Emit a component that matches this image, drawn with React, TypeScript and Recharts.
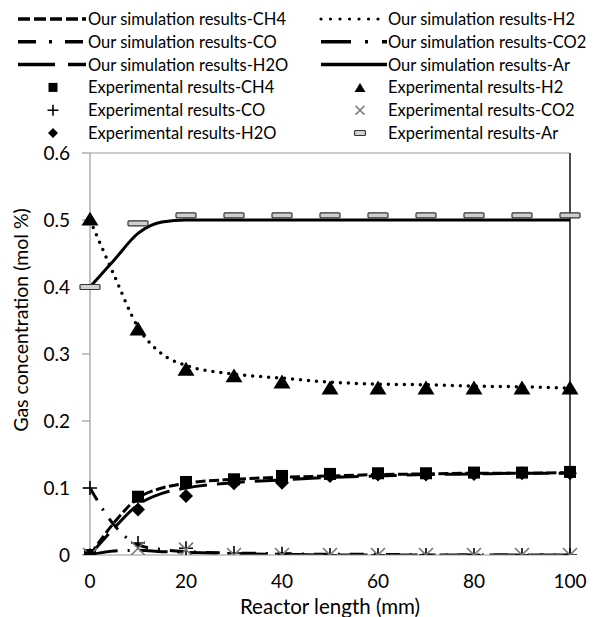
import {
  ComposedChart,
  Line,
  Scatter,
  XAxis,
  YAxis,
  ReferenceLine,
} from "recharts";

// simulation curves (mm along reactor)
const simX = [0, 5, 10, 15, 20, 30, 40, 50, 60, 70, 80, 90, 100];
const simCH4 = [0, 0.048, 0.085, 0.1, 0.107, 0.113, 0.116, 0.118, 0.12, 0.121, 0.122, 0.122, 0.123];
const simH2 = [0.5, 0.418, 0.34, 0.3, 0.283, 0.27, 0.264, 0.258, 0.255, 0.254, 0.252, 0.251, 0.249];
const simCO = [0.1, 0.045, 0.015, 0.008, 0.005, 0.003, 0.002, 0.001, 0.001, 0, 0, 0, 0];
const simCO2 = [0, 0.006, 0.007, 0.005, 0.004, 0.002, 0.001, 0, 0, 0, 0, 0, 0];
const simH2O = [0, 0.04, 0.075, 0.092, 0.1, 0.108, 0.112, 0.116, 0.118, 0.12, 0.121, 0.122, 0.122];
const simAr = [0.4, 0.44, 0.48, 0.497, 0.5, 0.5, 0.5, 0.5, 0.5, 0.5, 0.5, 0.5, 0.5];

// experimental points
const expX = [0, 10, 20, 30, 40, 50, 60, 70, 80, 90, 100];
const expCH4 = [0, 0.087, 0.109, 0.113, 0.118, 0.121, 0.122, 0.122, 0.123, 0.123, 0.124];
const expH2 = [0.5, 0.336, 0.276, 0.266, 0.257, 0.248, 0.248, 0.248, 0.248, 0.248, 0.248];
const expCO = [0.1, 0.018, 0.01, 0.003, 0.002, 0, 0, 0, 0, 0, 0];
const expCO2 = [0, 0.01, 0.008, 0, 0, 0, 0, 0, 0, 0, 0];
const expH2O = [0, 0.068, 0.088, 0.107, 0.108, 0.118, 0.12, 0.12, 0.121, 0.122, 0.122];
const expAr = [0.4, 0.495, 0.507, 0.507, 0.507, 0.507, 0.507, 0.507, 0.507, 0.507, 0.507];

const xTicks = [0, 20, 40, 60, 80, 100];
const yTicks = [0, 0.1, 0.2, 0.3, 0.4, 0.5, 0.6];

const simRows = simX.map((x, i) => ({
  x,
  CH4: simCH4[i],
  H2: simH2[i],
  CO: simCO[i],
  CO2: simCO2[i],
  H2O: simH2O[i],
  Ar: simAr[i],
}));

const expRows = expX.map((x, i) => ({
  x,
  CH4: expCH4[i],
  H2: expH2[i],
  CO: expCO[i],
  CO2: expCO2[i],
  H2O: expH2O[i],
  Ar: expAr[i],
}));

const FONT = "Lato, 'Open Sans', sans-serif";

const dashes: Record<string, string | undefined> = {
  CH4: "10 3.5",
  H2: "0 8",
  CO: "14 10 2 10",
  CO2: "28 10 2 10",
  H2O: "28 10",
  Ar: undefined,
};

// marker shapes
const Square = ({ cx, cy, s = 12 }: any) => (
  <rect x={cx - s / 2} y={cy - s / 2} width={s} height={s} fill="#000" />
);
const Triangle = ({ cx, cy, s = 17 }: any) => {
  const h = s * 0.82;
  return (
    <polygon
      points={`${cx},${cy - h * 0.6} ${cx - s / 2},${cy + h * 0.4} ${cx + s / 2},${cy + h * 0.4}`}
      fill="#000"
    />
  );
};
const Plus = ({ cx, cy, s = 14 }: any) => (
  <path
    d={`M${cx - s / 2},${cy}H${cx + s / 2}M${cx},${cy - s / 2}V${cy + s / 2}`}
    stroke="#000"
    strokeWidth={1.6}
  />
);
const Cross = ({ cx, cy, s = 14 }: any) => (
  <path
    d={`M${cx - s / 2},${cy - s / 2}L${cx + s / 2},${cy + s / 2}M${cx - s / 2},${cy + s / 2}L${cx + s / 2},${cy - s / 2}`}
    stroke="#777"
    strokeWidth={1.6}
  />
);
const Diamond = ({ cx, cy, s = 14 }: any) => (
  <polygon
    points={`${cx},${cy - s / 2} ${cx + s / 2},${cy} ${cx},${cy + s / 2} ${cx - s / 2},${cy}`}
    fill="#000"
  />
);
const Bar = ({ cx, cy, w = 20, h = 5 }: any) => (
  <rect x={cx - w / 2} y={cy - h / 2} width={w} height={h} fill="#d0d0d0" stroke="#333" strokeWidth={1.2} rx={1} />
);

const legendLeft = [
  { kind: "line", key: "CH4", label: "Our simulation results-CH4" },
  { kind: "line", key: "CO", label: "Our simulation results-CO" },
  { kind: "line", key: "H2O", label: "Our simulation results-H2O" },
  { kind: "mark", key: "CH4", label: "Experimental results-CH4" },
  { kind: "mark", key: "CO", label: "Experimental results-CO" },
  { kind: "mark", key: "H2O", label: "Experimental results-H2O" },
];
const legendRight = [
  { kind: "line", key: "H2", label: "Our simulation results-H2" },
  { kind: "line", key: "CO2", label: "Our simulation results-CO2" },
  { kind: "line", key: "Ar", label: "Our simulation results-Ar" },
  { kind: "mark", key: "H2", label: "Experimental results-H2" },
  { kind: "mark", key: "CO2", label: "Experimental results-CO2" },
  { kind: "mark", key: "Ar", label: "Experimental results-Ar" },
];

const legendDash: Record<string, string | undefined> = {
  CH4: "12 4",
  CO: "18 13 3 13",
  CO2: "30 14 3 14",
  H2O: "37 13",
  H2: "0 9.5",
  Ar: undefined,
};

const legendMark = (key: string, cx: number, cy: number) => {
  switch (key) {
    case "CH4":
      return <Square cx={cx} cy={cy} s={9} />;
    case "H2":
      return <Triangle cx={cx} cy={cy + 1} s={11} />;
    case "CO":
      return <Plus cx={cx} cy={cy} s={11} />;
    case "CO2":
      return <Cross cx={cx} cy={cy} s={9} />;
    case "H2O":
      return <Diamond cx={cx} cy={cy} s={10} />;
    default:
      return <Bar cx={cx} cy={cy} w={11} h={5} />;
  }
};

function LegendBlock() {
  const rowY = (i: number) => 19 + i * 22.8;
  const col = (items: typeof legendLeft, x0: number, x1: number, tx: number, mx: number) =>
    items.map((it, i) => (
      <g key={it.label}>
        {it.kind === "line" ? (
          <line
            x1={x0}
            x2={x1}
            y1={rowY(i)}
            y2={rowY(i)}
            stroke="#000"
            strokeWidth={it.key === "H2" ? 3.2 : 3.5}
            strokeDasharray={legendDash[it.key]}
            strokeLinecap={it.key === "H2" ? "round" : "butt"}
          />
        ) : (
          legendMark(it.key, mx, rowY(i))
        )}
        <text x={tx} y={rowY(i)} dominantBaseline="central" fontSize={16.5} fontFamily={FONT} fill="#000">
          {it.label}
        </text>
      </g>
    ));
  return (
    <svg width={595} height={145} style={{ position: "absolute", left: 0, top: 0 }}>
      {col(legendLeft, 18, 86, 88, 53)}
      {col(legendRight, 321, 387, 388, 360)}
    </svg>
  );
}

const markShape = (key: string) => (p: any) => {
  const { cx, cy } = p;
  switch (key) {
    case "CH4":
      return <Square cx={cx} cy={cy} />;
    case "H2":
      return <Triangle cx={cx} cy={cy} />;
    case "CO":
      return <Plus cx={cx} cy={cy} />;
    case "CO2":
      return <Cross cx={cx} cy={cy} />;
    case "H2O":
      return <Diamond cx={cx} cy={cy} />;
    default:
      return <Bar cx={cx} cy={cy} />;
  }
};

const gases = ["CH4", "H2", "CO", "CO2", "H2O", "Ar"];

export default function App() {
  return (
    <div style={{ position: "absolute", left: 0, top: 0, width: 595, height: 617, background: "#fff" }}>
      <LegendBlock />
      <ComposedChart
        width={595}
        height={617}
        margin={{ top: 153, right: 25, bottom: 0, left: 0 }}
        style={{ position: "absolute", left: 0, top: 0 }}
      >
        <XAxis
          type="number"
          dataKey="x"
          domain={[0, 100]}
          ticks={xTicks}
          height={62}
          axisLine={{ stroke: "#999", strokeWidth: 1.2 }}
          tickLine={false}
          tickSize={0}
          tickMargin={20}
          tick={{ fill: "#000", fontSize: 19, fontFamily: FONT }}
          label={{
            value: "Reactor length (mm)",
            position: "insideBottom",
            offset: 3,
            fill: "#000",
            fontSize: 20.5,
            fontFamily: FONT,
          }}
        />
        <YAxis
          type="number"
          domain={[0, 0.6]}
          ticks={yTicks}
          width={90}
          allowDataOverflow
          axisLine={{ stroke: "#999", strokeWidth: 1.2 }}
          tickLine={{ stroke: "#999", strokeWidth: 1.2 }}
          tickSize={8}
          tickMargin={12}
          tick={{ fill: "#000", fontSize: 19, fontFamily: FONT }}
          tickFormatter={(v: number) => (v === 0 ? "0" : v.toFixed(1))}
          label={{
            content: () => (
              <text
                x={20}
                y={320}
                transform="rotate(-90 20 320)"
                textAnchor="middle"
                dominantBaseline="central"
                fontSize={19.5}
                fontFamily={FONT}
                fill="#000"
              >
                Gas concentration (mol %)
              </text>
            ),
          }}
        />
        <ReferenceLine y={0.6} stroke="#999" strokeWidth={1.2} />
        <ReferenceLine x={100} stroke="#111" strokeWidth={1.5} />
        {gases.map((g) => (
          <Line
            key={"sim-" + g}
            data={simRows}
            dataKey={g}
            type="monotone"
            stroke="#000"
            strokeWidth={g === "H2" ? 3.5 : 3}
            strokeDasharray={dashes[g]}
            strokeLinecap={g === "H2" ? "round" : "butt"}
            dot={false}
            activeDot={false}
            isAnimationActive={false}
          />
        ))}
        {gases.map((g) => (
          <Scatter
            key={"exp-" + g}
            data={expRows}
            dataKey={g}
            shape={markShape(g)}
            isAnimationActive={false}
          />
        ))}
      </ComposedChart>
    </div>
  );
}
